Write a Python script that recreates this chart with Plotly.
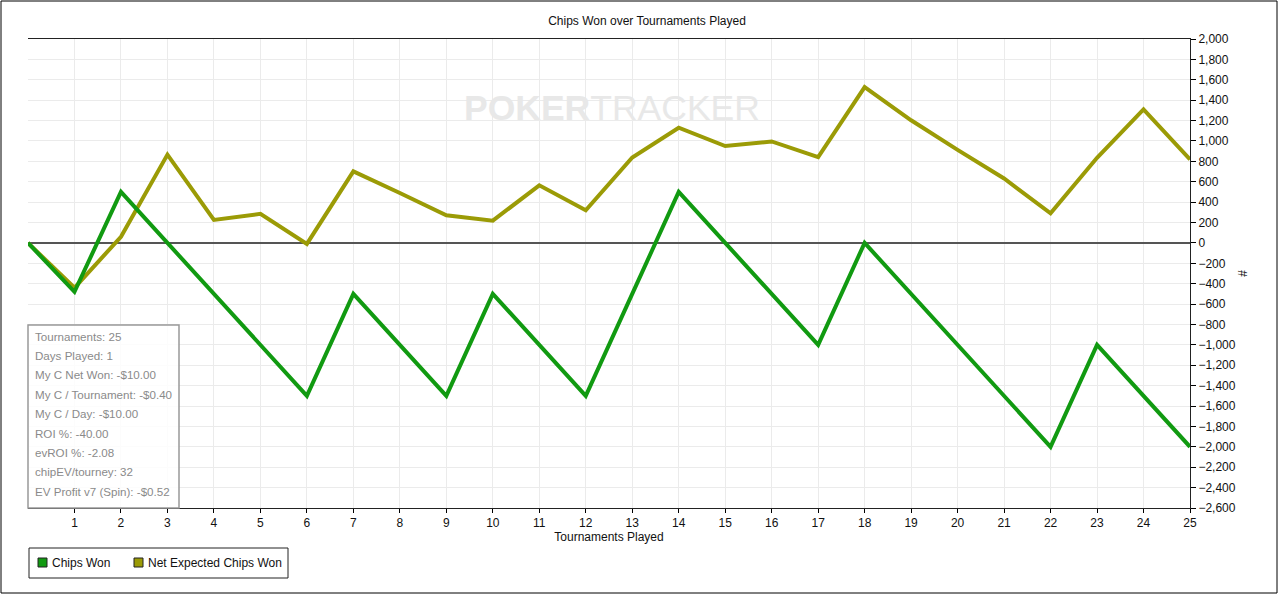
import plotly.graph_objects as go

tournaments = list(range(0, 26))
chips_won = [0, -480, 500, 0, -500, -1000, -1500, -500, -1000, -1500, -500, -1000, -1500,
             -500, 500, 0, -500, -1000, 0, -500, -1000, -1500, -2000, -1000, -1500, -2000]
net_expected = [0, -440, 60, 866, 225, 285, -10, 702, 490, 272, 218, 565, 320,
                838, 1130, 950, 995, 842, 1528, 1203, 912, 632, 290, 835, 1310, 818]

series_names = ["Chips Won", "Net Expected Chips Won"]
y_ticks = list(range(-2600, 2001, 200))
stats = ["Tournaments: 25", "Days Played: 1", "My C Net Won: -$10.00",
         "My C / Tournament: -$0.40", "My C / Day: -$10.00", "ROI %: -40.00",
         "evROI %: -2.08", "chipEV/tourney: 32", "EV Profit v7 (Spin): -$0.52"]

green = "#119a11"
olive = "#9b9b06"
font = "Liberation Sans, Arial, sans-serif"

fig = go.Figure()
fig.add_trace(go.Scatter(x=tournaments, y=net_expected, mode="lines", showlegend=False,
                         line=dict(color=olive, width=4), name=series_names[1]))
fig.add_trace(go.Scatter(x=tournaments, y=chips_won, mode="lines", showlegend=False,
                         line=dict(color=green, width=4), name=series_names[0]))

# plot area is 28..1190 px wide, 39..508 px tall
def px(x):
    return (x - 28) / 1162

def py(y):
    return (508 - y) / 469

shapes = [
    # outer frame
    dict(type="rect", xref="paper", yref="paper", x0=px(1), x1=px(1277), y0=py(593), y1=py(1),
         line=dict(color="#000", width=1), layer="below"),
    # stats box
    dict(type="rect", xref="paper", yref="paper", x0=px(28), x1=px(179), y0=py(508), y1=py(325),
         line=dict(color="#999", width=1.5), fillcolor="rgba(255,255,255,0.85)", layer="above"),
    # legend box
    dict(type="rect", xref="paper", yref="paper", x0=px(29), x1=px(288), y0=py(578), y1=py(548),
         line=dict(color="#222", width=1), fillcolor="white"),
]

annotations = [
    dict(text="<b>POKER</b>TRACKER", xref="paper", yref="paper", x=px(612), y=py(86),
         showarrow=False, font=dict(family=font, size=35.5, color="#e8e8e8")),
]
for i, s in enumerate(stats):
    annotations.append(dict(text=s, xref="paper", yref="paper", x=px(33), y=py(336 + i * 19.4),
                            xanchor="left", yanchor="middle", showarrow=False,
                            font=dict(family=font, size=11.6, color="#8a8a8a")))

# legend swatches and labels
for name, color, sx in zip(series_names, [green, olive], [38, 134]):
    shapes.append(dict(type="rect", xref="paper", yref="paper", x0=px(sx), x1=px(sx + 9),
                       y0=py(567), y1=py(558), line=dict(color="#222", width=1), fillcolor=color))
    annotations.append(dict(text=name, xref="paper", yref="paper", x=px(sx + 12), y=py(562.5),
                            xanchor="left", yanchor="middle", showarrow=False,
                            font=dict(family=font, size=12, color="#111")))

fig.update_layout(
    width=1280, height=596,
    margin=dict(l=28, r=90, t=39, b=88),
    paper_bgcolor="white", plot_bgcolor="white",
    font=dict(family=font, size=12, color="#111"),
    title=dict(text="Chips Won over Tournaments Played", x=647 / 1280, xanchor="center",
               y=1 - 21 / 596, yanchor="middle", font=dict(size=12, color="#111")),
    xaxis=dict(range=[0, 25], tickvals=tournaments[1:], ticks="outside", ticklen=4,
               tickcolor="#000", showline=True, linecolor="#222", linewidth=1, mirror=True,
               showgrid=True, gridcolor="#ebebeb", zeroline=False,
               title=dict(text="Tournaments Played", standoff=2, font=dict(size=12))),
    yaxis=dict(range=[-2600, 2000], side="right", tickvals=y_ticks, tickformat=",",
               ticks="outside", ticklen=5, tickcolor="#000", showline=True, linecolor="#222",
               linewidth=1, showgrid=True, gridcolor="#ebebeb",
               zeroline=True, zerolinecolor="#555", zerolinewidth=1.5,
               title=dict(text="#", standoff=3, font=dict(size=12))),
    showlegend=False,
    shapes=shapes,
    annotations=annotations,
)

fig.write_html("out.html", config={"displayModeBar": False},
               post_script="document.body.style.margin='0';")
